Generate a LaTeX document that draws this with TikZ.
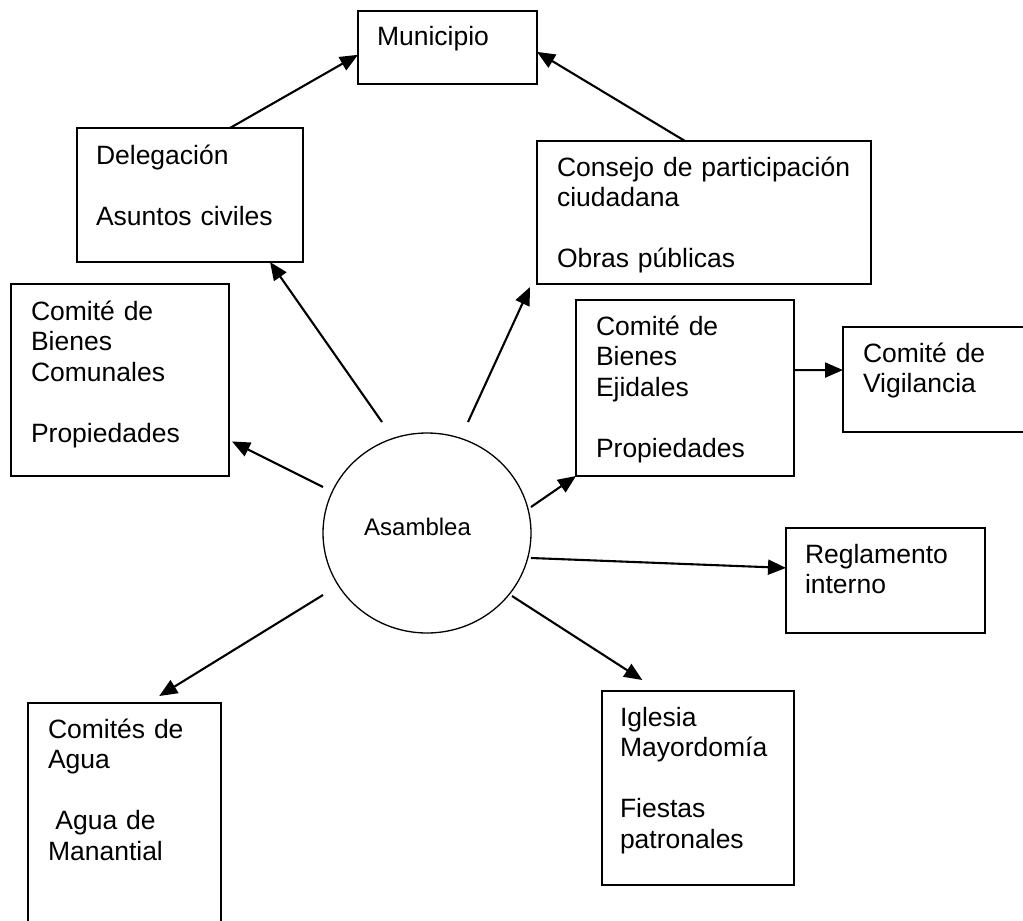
\documentclass[tikz,border=0pt]{standalone}
\usepackage{fontspec}
\setmainfont{Liberation Sans}
\usetikzlibrary{arrows.meta,calc,shapes.geometric}

\tikzset{
  box/.style={draw, line width=1.4pt, rectangle, inner sep=0pt, outer sep=0pt},
  label/.style={anchor=base west, inner sep=0pt, outer sep=0pt, text width=330pt, align=left,
                font=\fontsize{26.5}{30.6}\selectfont},
  arr/.style={line width=2.1pt, -{Triangle[length=18pt,width=15pt]}},
}

\begin{document}
\begin{tikzpicture}[x=1pt, y=-1pt]
  \path[use as bounding box, fill=white] (0,0) rectangle (1023,921);
  \clip (0,0) rectangle (1023,921);

  % boxes
  \node[box, minimum width=179pt, minimum height=73pt]  (mun)  at (447.5,47.5) {};
  \node[box, minimum width=226pt, minimum height=134pt] (del)  at (190,195) {};
  \node[box, minimum width=218pt, minimum height=192pt] (com)  at (120,380) {};
  \node[box, minimum width=334pt, minimum height=143pt] (con)  at (704,212.5) {};
  \node[box, minimum width=218pt, minimum height=176pt] (eji)  at (685,388) {};
  \node[box, minimum width=207pt, minimum height=105pt] (vig)  at (946.5,379.5) {};
  \node[box, minimum width=199pt, minimum height=105pt] (reg)  at (885.5,580.5) {};
  \node[box, minimum width=192pt, minimum height=194pt] (igl)  at (698,788) {};
  \node[box, minimum width=193pt, minimum height=247pt] (agua) at (124.5,826.5) {};
  \node[draw, line width=1.3pt, ellipse, inner sep=0pt, minimum width=208pt, minimum height=200pt] (asm) at (427,533) {};

  % texts
  \node[label] (tmun)  at (377,45)  {Municipio};
  \node[label] (tdel)  at (96,164)  {Delegación\\[30.6pt]Asuntos civiles};
  \node[label] (tcom)  at (31,320)  {Comité de\\Bienes\\Comunales\\[30.6pt]Propiedades};
  \node[label] (tcon)  at (557,176) {Consejo de participación\\ciudadana\\[30.6pt]Obras públicas};
  \node[label] (teji)  at (596,335) {Comité de\\Bienes\\Ejidales\\[30.6pt]Propiedades};
  \node[label] (tvig)  at (863,362) {Comité de\\Vigilancia};
  \node[label] (treg)  at (805,563) {Reglamento\\interno};
  \node[label] (tigl)  at (620,726) {Iglesia\\Mayordomía\\[30.6pt]Fiestas\\patronales};
  \node[label] (tagua) at (48,738)  {Comités de\\Agua\\[30.6pt]\hspace*{0.28em}Agua de\\Manantial};
  \node[anchor=base west, inner sep=0pt, font=\fontsize{24}{28}\selectfont] (tasm) at (364,535) {Asamblea};

  % connectors
  \draw[arr] ($(del.north west)!0.677!(del.north east)$) -- ($(mun.north west)!0.60!(mun.south west)$);
  \draw[arr] ($(con.north west)!0.443!(con.north east)$) -- ($(mun.north east)!0.56!(mun.south east)$);
  \draw[arr] ($(asm.center)+(-45,-111)$) -- ($(del.south west)!0.854!(del.south east)$);
  \draw[arr] ($(asm.center)+(41,-111)$) -- ($(con.south west)+(-7,3)$);
  \draw[arr] ($(asm.center)+(-104,-46)$) -- ($(com.north east)!0.82!(com.south east)+(3,0)$);
  \draw[arr] ($(asm.center)+(104,-26)$) -- (eji.south west);
  \draw[arr] ($(eji.north east)!0.398!(eji.south east)$) -- ($(vig.north west)!0.41!(vig.south west)$);
  \draw[arr] ($(asm.center)+(104,25)$) -- ($(reg.north west)!0.38!(reg.south west)$);
  \draw[arr] ($(asm.center)+(85,63)$) -- ($(igl.north west)!0.21!(igl.north east)+(0,-11)$);
  \draw[arr] ($(asm.center)+(-104,62)$) -- ($(agua.north west)!0.68!(agua.north east)+(0,-7)$);
\end{tikzpicture}
\end{document}
